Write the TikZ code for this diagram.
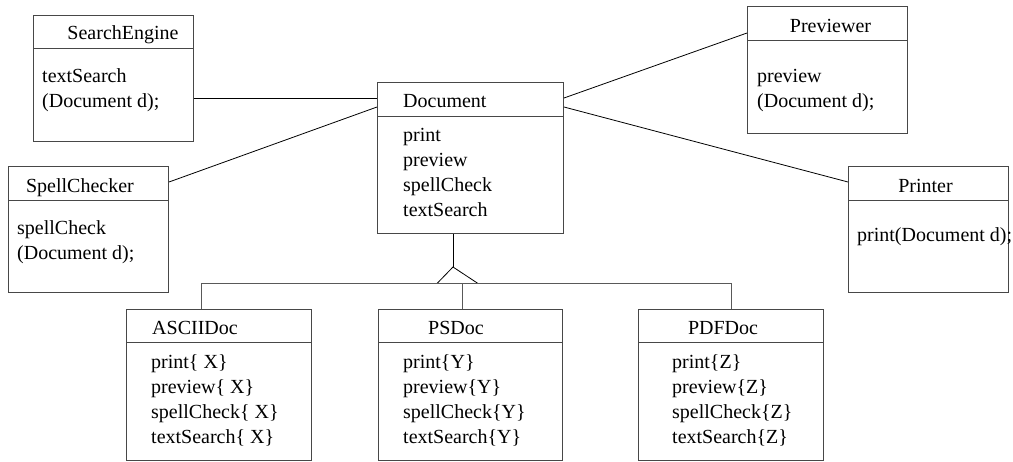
\documentclass[tikz,border=0pt]{standalone}
\usepackage{fontspec}
\setmainfont{Liberation Serif}
\usetikzlibrary{calc}

\tikzset{
  classbox/.style={draw=black!72, line width=1pt, inner sep=0pt, anchor=north west, fill=white},
  divider/.style={draw=black!72, line width=1pt},
  txt/.style={inner sep=0pt, font=\fontsize{20}{25}\selectfont},
  title/.style={txt, anchor=base},
  ltitle/.style={txt, anchor=base west},
  % multi-line members: the base anchor sits on the last line
  members/.style={txt, anchor=base west, align=left},
  link/.style={draw=black, line width=0.8pt},
  bus/.style={draw=black!65, line width=1pt},
}

\begin{document}
\begin{tikzpicture}[x=1pt, y=-1pt]
\useasboundingbox (0,0) rectangle (1013,461);

% ---- class boxes ----
\node[classbox, minimum width=160pt, minimum height=126pt] (se)  at (33,15)   {};
\node[classbox, minimum width=160pt, minimum height=126pt] (sc)  at (8,166)   {};
\node[classbox, minimum width=186pt, minimum height=151pt] (doc) at (377,82)  {};
\node[classbox, minimum width=160pt, minimum height=127pt] (pv)  at (747,6)   {};
\node[classbox, minimum width=160pt, minimum height=126pt] (pr)  at (848,166) {};
\node[classbox, minimum width=185pt, minimum height=151pt] (asc) at (126,309) {};
\node[classbox, minimum width=184pt, minimum height=151pt] (ps)  at (378,309) {};
\node[classbox, minimum width=185pt, minimum height=151pt] (pdf) at (638,309) {};

% ---- header dividers ----
\draw[divider] ($(se.north west)+(0,33)$)  -- ($(se.north east)+(0,33)$);
\draw[divider] ($(sc.north west)+(0,34)$)  -- ($(sc.north east)+(0,34)$);
\draw[divider] ($(doc.north west)+(0,34)$) -- ($(doc.north east)+(0,34)$);
\draw[divider] ($(pv.north west)+(0,34)$)  -- ($(pv.north east)+(0,34)$);
\draw[divider] ($(pr.north west)+(0,34)$)  -- ($(pr.north east)+(0,34)$);
\draw[divider] ($(asc.north west)+(0,33)$) -- ($(asc.north east)+(0,33)$);
\draw[divider] ($(ps.north west)+(0,33)$)  -- ($(ps.north east)+(0,33)$);
\draw[divider] ($(pdf.north west)+(0,33)$) -- ($(pdf.north east)+(0,33)$);

% ---- class names ----
\node[title]  (se-n)  at (123,39)   {SearchEngine};
\node[title]  (sc-n)  at (80,192)   {SpellChecker};
\node[ltitle] (doc-n) at (403,107)  {Document};
\node[title]  (pv-n)  at (830.5,32) {Previewer};
\node[title]  (pr-n)  at (925.5,192){Printer};
\node[ltitle] (asc-n) at (152,334)  {ASCIIDoc};
\node[title]  (ps-n)  at (456,334)  {PSDoc};
\node[title]  (pdf-n) at (723,334)  {PDFDoc};

% ---- operations (positioned by the baseline of the last line) ----
\node[members] (se-m)  at (42,107)  {textSearch\\(Document d);};
\node[members] (sc-m)  at (17,259)  {spellCheck\\(Document d);};
\node[members] (doc-m) at (403,216) {print\\preview\\spellCheck\\textSearch};
\node[members] (pv-m)  at (757,107) {preview\\(Document d);};
\node[members] (pr-m)  at (857,241) {print(Document d);};
\node[members] (asc-m) at (151,443) {print\{ X\}\\preview\{ X\}\\spellCheck\{ X\}\\textSearch\{ X\}};
\node[members] (ps-m)  at (403,443) {print\{Y\}\\preview\{Y\}\\spellCheck\{Y\}\\textSearch\{Y\}};
\node[members] (pdf-m) at (672,443) {print\{Z\}\\preview\{Z\}\\spellCheck\{Z\}\\textSearch\{Z\}};

% ---- associations ----
\draw[link] ($(se.north east)+(0,83.5)$)  -- ($(doc.north west)+(0,16.5)$);
\draw[link] ($(sc.north east)+(0,16)$)    -- ($(doc.north west)+(0,25)$);
\draw[link] ($(doc.north east)+(0,16)$)   -- ($(pv.north west)+(0,27)$);
\draw[link] ($(doc.north east)+(0,25)$)   -- ($(pr.north west)+(0,16)$);

% ---- generalization ----
\coordinate (apex) at (453,267);
\draw[link] ($(doc.south west)+(76,0)$) -- (apex);
\draw[link] ($(apex)+(-16,16.5)$) -- (apex) -- ($(apex)+(25,16.5)$);
\draw[bus] ($(asc.north west)+(75,0)$) |- ($(pdf.north)+(0,-25.5)$) -- (pdf.north);
\draw[bus] ($(ps.north west)+(84,0)$) -- ($(ps.north west)+(84,-25.5)$);
\end{tikzpicture}
\end{document}
